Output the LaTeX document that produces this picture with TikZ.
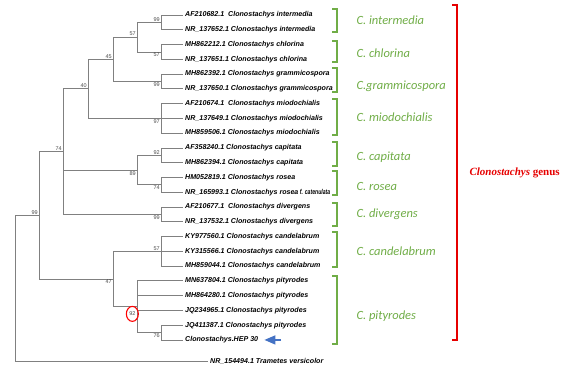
\documentclass[tikz,border=0pt]{standalone}
\usepackage{fontspec}
\usepackage{graphicx}
\usepackage{tikz}
\usetikzlibrary{arrows.meta}
\usetikzlibrary{positioning}
\usetikzlibrary{shapes.geometric}
\newfontfamily\leaffont{Liberation Sans}
\newfontfamily\cladefont{Carlito}
\newfontfamily\genusfont{Liberation Serif}
\newcommand\narrowpart[1]{\scalebox{0.72}[1]{#1}}
\definecolor{treegray}{RGB}{128,128,128}
\definecolor{cladegreen}{RGB}{112,173,71}
\definecolor{genusred}{RGB}{230,0,0}
\definecolor{arrowblue}{RGB}{68,114,196}
\tikzset{branch/.style = {draw=treegray, line width=0.8pt},
         leaf/.style = {anchor=west, inner sep=2pt,
                        font=\leaffont\fontsize{7.1}{8}\selectfont\bfseries\itshape},
         boot/.style = {inner sep=1pt, text=black!70,
                        font=\leaffont\fontsize{5.5}{6}\selectfont},
         clade/.style = {draw=cladegreen, line width=1.3pt},
         cladename/.style = {anchor=base west, text=cladegreen,
                             font=\cladefont\fontsize{12.5}{14}\selectfont\itshape}}
\def\ly#1{15+(#1-1)*14.77}

\begin{document}
\begin{tikzpicture}[x=1pt, y=-1pt]
  \useasboundingbox (0,0) rectangle (574,371);

  % sequences
  \foreach \i/\txt in {1/AF210682.1\ \ Clonostachys intermedia,
                       2/NR\_137652.1 Clonostachys intermedia,
                       3/MH862212.1 Clonostachys chlorina,
                       4/NR\_137651.1 Clonostachys chlorina,
                       5/MH862392.1 Clonostachys grammicospora,
                       6/NR\_137650.1 Clonostachys grammicospora,
                       7/AF210674.1\ \ Clonostachys miodochialis,
                       8/NR\_137649.1 Clonostachys miodochialis,
                       9/MH859506.1 Clonostachys miodochialis,
                       10/AF358240.1 Clonostachys capitata,
                       11/MH862394.1 Clonostachys capitata,
                       12/HM052819.1 Clonostachys rosea,
                       13/NR\_165993.1 Clonostachys rosea\narrowpart{\ f. catenulata},
                       14/AF210677.1\ \ Clonostachys divergens,
                       15/NR\_137532.1 Clonostachys divergens,
                       16/KY977560.1 Clonostachys candelabrum,
                       17/KY315566.1 Clonostachys candelabrum,
                       18/MH859044.1 Clonostachys candelabrum,
                       19/MN637804.1 Clonostachys pityrodes,
                       20/MH864280.1 Clonostachys pityrodes,
                       21/JQ234965.1 Clonostachys pityrodes,
                       22/JQ411387.1 Clonostachys pityrodes,
                       23/Clonostachys.HEP 30}
    \node [leaf] (l\i) at (183, {\ly{\i}}) {\txt};
  \node [leaf] (l24) at (208, 361) {NR\_154494.1 Trametes versicolor};

  % internal nodes
  \foreach \n/\x/\k in {1/161/1.5, 2/161/3.5, 3/137/2.5, 4/161/5.5, 5/113/4,
                        6/161/8, 7/88/6, 8/161/10.5, 9/161/12.5, 10/137/11.5,
                        11/161/14.5, 12/63/10.25, 13/161/17, 14/161/22.5,
                        15/137/20.75, 16/113/18.875, 17/39/14.5625}
    \coordinate (n\n) at (\x, {\ly{\k}});
  \coordinate (r) at (15, {\ly{14.5625}});

  % branches
  \foreach \p/\c in {n1/l1, n1/l2, n2/l3, n2/l4, n3/n1, n3/n2, n4/l5, n4/l6,
                     n5/n3, n5/n4, n6/l7, n6/l8, n6/l9, n7/n5, n7/n6,
                     n8/l10, n8/l11, n9/l12, n9/l13, n10/n8, n10/n9,
                     n11/l14, n11/l15, n12/n7, n12/n10, n12/n11,
                     n13/l16, n13/l17, n13/l18, n14/l22, n14/l23,
                     n15/l19, n15/l20, n15/l21, n15/n14, n16/n13, n16/n15,
                     n17/n12, n17/n16, r/n17, r/l24}
    \draw [branch] (\p) |- (\c);

  % bootstrap values
  \foreach \n/\pos/\v in {1/above left/99, 3/above left/57, 2/below left/57,
                          5/above left/45, 4/below left/99, 7/above left/40,
                          6/below left/97, 12/above left/74, 8/above left/92,
                          10/below left/89, 9/below left/74, 11/below left/99,
                          17/above left/99, 13/above left/57, 16/below left/47,
                          14/below left/76}
    \node [boot, \pos] (b\n) at (n\n) {\v};
  \node [boot, below left=1.5pt and 0pt, ellipse, minimum width=12pt,
         minimum height=15pt, inner sep=0pt, draw=red, line width=1.1pt]
    (b15) at (n15) {92};

  % arrow to the isolate
  \coordinate (tail) at (281, {\ly{23}});
  \draw [arrowblue, line width=1.5pt, -{Triangle[length=11pt, width=9pt]}]
    (tail) -- ([xshift=4pt]l23.east);

  % clades
  \foreach \g/\t/\b/\m/\name in {1/9/32/21/C. intermedia, 2/41/62/54/C. chlorina,
                                 3/68/92/86/C.grammicospora,
                                 4/99/135/118/C. miodochialis,
                                 5/142/166/157/C. capitata, 6/171/195/187/C. rosea,
                                 7/203/226/214/C. divergens,
                                 8/232/267/252/C. candelabrum,
                                 9/276/344/316/C. pityrodes} {
    \draw [clade] (332,\t) -- (337,\t) -- (337,\b) -- (332,\b);
    \node [cladename] (g\g) at (353, \m+4) {\name};
  }

  % genus
  \draw [genusred, line width=2pt] (452,5) -- (457,5) -- (457,340) -- (452,340);
  \node [anchor=west, text=genusred, font=\genusfont\fontsize{11}{13}\selectfont\bfseries]
    (genus) at (466,173) {\textit{Clonostachys} genus};
\end{tikzpicture}
\end{document}
